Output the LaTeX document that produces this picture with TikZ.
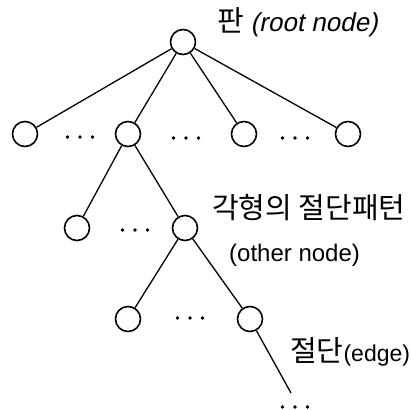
\documentclass[tikz,border=0pt]{standalone}
\usepackage{fontspec}
\setmainfont{Liberation Sans}
\newfontfamily\kr{Noto Sans CJK KR}
\newfontfamily\slanted[FakeSlant=0.2]{Liberation Sans}
\begin{document}
\begin{tikzpicture}[x=1pt,y=-1pt,
  vertex/.style={circle,draw,line width=1.6pt,minimum size=25pt,inner sep=0pt},
  link/.style={line width=1.3pt},
  lbl/.style={inner sep=0pt,font=\fontsize{24}{28}\selectfont},
  dot/.style={fill=black}]
\newcommand\hangul[1]{{\kr\fontsize{29}{30}\selectfont #1}}
\useasboundingbox (0,0) rectangle (410,410);
% tree vertices
\node[vertex] (root) at (183,42) {};
\node[vertex] (a1) at (25,134) {};
\node[vertex] (a2) at (128,134) {};
\node[vertex] (a3) at (244,134) {};
\node[vertex] (a4) at (348,134) {};
\node[vertex] (b1) at (77,228) {};
\node[vertex] (b2) at (185,228) {};
\node[vertex] (c1) at (128,319) {};
\node[vertex] (c2) at (250,319) {};
\coordinate (tail) at (291,393);
% edges
\draw[link] (root) -- (a1);
\draw[link] (root) -- (a2);
\draw[link] (root) -- (a3);
\draw[link] (root) -- (a4);
\draw[link] (a2) -- (b1);
\draw[link] (a2) -- (b2);
\draw[link] (b2) -- (c1);
\draw[link] (b2) -- (c2);
\draw[link] (c2) -- (tail);
% ellipses between siblings
\foreach \x/\y in {80/137, 186/138, 295/138, 135/230, 190/318, 295/407}
  \foreach \d in {-12.5,0,12.5}
    \fill[dot] (\x+\d,\y) circle (1.9);
% labels
\node[lbl,anchor=west] (tr) at (217,22) {\hangul{판} {\slanted\fontsize{26}{28}\selectfont (root node)}};
\node[lbl,anchor=west] (tb) at (212,208) {\hangul{각형의 절단패턴}};
\node[lbl,anchor=west] (tb2) at (229,255) {(other node)};
\node[lbl,anchor=west] (te) at (290,352) {\hangul{절단}{\fontsize{23}{28}\selectfont(edge)}};
\end{tikzpicture}
\end{document}
